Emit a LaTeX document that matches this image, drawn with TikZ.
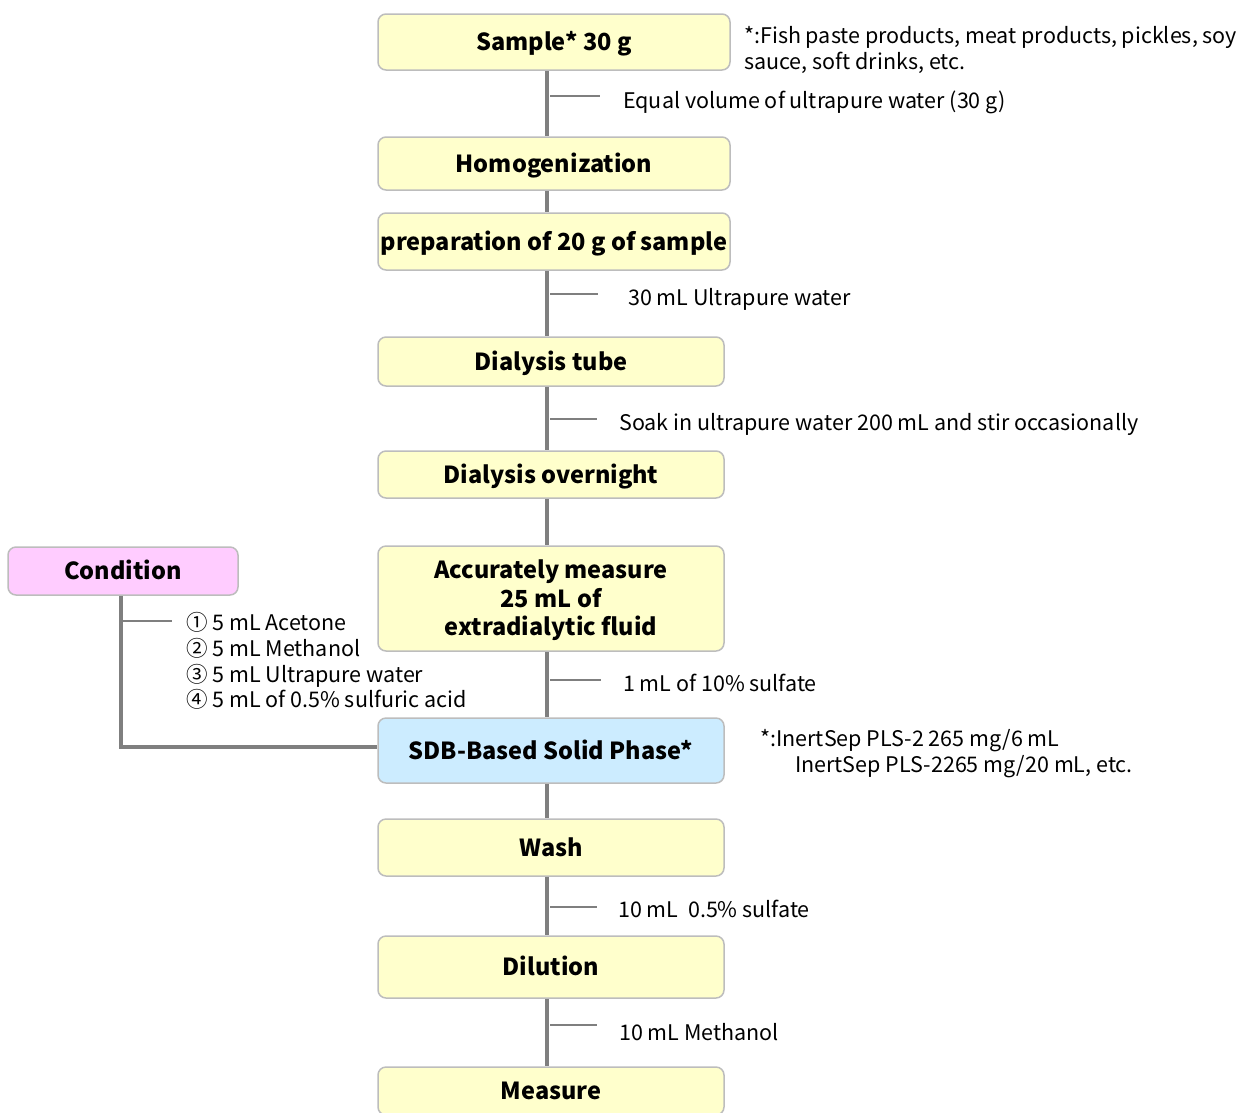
\documentclass[tikz,border=0pt]{standalone}
\usepackage{fontspec}
\setmainfont{Noto Sans CJK JP}
\usetikzlibrary{calc}
\definecolor{boxline}{HTML}{BDBDBD}
\definecolor{boxyellow}{HTML}{FFFFCC}
\definecolor{boxpink}{HTML}{FFCCFF}
\definecolor{boxblue}{HTML}{CCECFF}
\definecolor{wiregray}{HTML}{7F7F7F}
\tikzset{
	stepbox/.style={draw=boxline, line width=1.5pt, rounded corners=8pt, fill=boxyellow, align=center, inner sep=0pt, text height=22pt, text depth=5pt, font=\bfseries\fontsize{23.5}{28.5}\selectfont},
	notetext/.style={anchor=west, align=left, inner sep=0pt, font=\fontsize{21.5}{26}\selectfont},
	trunk/.style={draw=wiregray, line width=4pt},
	stub/.style={draw=wiregray, line width=1.8pt}
}
\begin{document}
\begin{tikzpicture}[x=1pt, y=-1pt]
		\useasboundingbox (0,0) rectangle (1241,1112);
		% Paths, nodes and wires:
		\coordinate (tx) at (547,0);
		\node[stepbox, minimum width=352pt, minimum height=56pt] (sample) at (554, 42){Sample* 30 g};
		\node[stepbox, minimum width=352pt, minimum height=53pt] (homog) at (554, 163.5){Homogenization};
		\node[stepbox, minimum width=352pt, minimum height=57pt] (prep) at (554, 241.5){preparation of 20 g of sample};
		\node[stepbox, minimum width=346pt, minimum height=49pt] (tube) at (551, 361.5){Dialysis tube};
		\node[stepbox, minimum width=346pt, minimum height=47pt] (overnight) at (551, 474.5){Dialysis overnight};
		\node[stepbox, text height=79pt, minimum width=346pt, minimum height=105pt] (take) at (551, 598.5){Accurately measure\\25 mL of\\extradialytic fluid};
		\node[stepbox, fill=boxblue, minimum width=346pt, minimum height=65pt] (sdb) at (551, 750.5){SDB-Based Solid Phase*};
		\node[stepbox, minimum width=346pt, minimum height=57pt] (wash) at (551, 847.5){Wash};
		\node[stepbox, minimum width=346pt, minimum height=62pt] (dilution) at (551, 967){Dilution};
		\node[stepbox, minimum width=346pt, minimum height=48pt] (measure) at (551, 1091){Measure};
		\node[stepbox, fill=boxpink, minimum width=230pt, minimum height=48pt] (cond) at (123, 571){Condition};
		\node[notetext] (samplenote) at (744, 50){*:Fish paste products, meat products, pickles, soy\\sauce, soft drinks, etc.};
		\node[notetext] (sdbnote) at (760, 754){*:InertSep PLS-2 265 mg/6 mL\\\hspace*{35pt}InertSep PLS-2265 mg/20 mL, etc.};
		\node[notetext] (water) at (623, 102){Equal volume of ultrapure water (30 g)};
		\node[notetext] (add30) at (628, 299){30 mL Ultrapure water};
		\node[notetext] (soak) at (619, 424){Soak in ultrapure water 200 mL and stir occasionally};
		\node[notetext, font=\fontsize{21.5}{25.7}\selectfont] (condlist) at (186, 661){① 5 mL Acetone\\② 5 mL Methanol\\③ 5 mL Ultrapure water\\④ 5 mL of 0.5\% sulfuric acid};
		\node[notetext] (acid) at (623, 683){1 mL of 10\% sulfate};
		\node[notetext] (rinse) at (618, 909){10 mL\ \ 0.5\% sulfate};
		\node[notetext] (elute) at (619, 1032){10 mL Methanol};
		\coordinate (s1) at (600, 96);
		\coordinate (s2) at (598, 294);
		\coordinate (s3) at (597, 419);
		\coordinate (s4) at (172, 621);
		\coordinate (s5) at (601, 680);
		\coordinate (s6) at (597, 907);
		\coordinate (s7) at (597, 1025);
		\draw[trunk] (sample.south -| tx) -- (homog.north -| tx);
		\draw[trunk] (homog.south -| tx) -- (prep.north -| tx);
		\draw[trunk] (prep.south -| tx) -- (tube.north -| tx);
		\draw[trunk] (tube.south -| tx) -- (overnight.north -| tx);
		\draw[trunk] (overnight.south -| tx) -- (take.north -| tx);
		\draw[trunk] (take.south -| tx) -- (sdb.north -| tx);
		\draw[trunk] (sdb.south -| tx) -- (wash.north -| tx);
		\draw[trunk] (wash.south -| tx) -- (dilution.north -| tx);
		\draw[trunk] (dilution.south -| tx) -- (measure.north -| tx);
		\draw[trunk] ([xshift=-2pt]cond.south) |- ([yshift=3.5pt]sdb.west);
		\draw[stub] ($(tx |- s1)+(3,0)$) -- (s1);
		\draw[stub] ($(tx |- s2)+(3,0)$) -- (s2);
		\draw[stub] ($(tx |- s3)+(3,0)$) -- (s3);
		\draw[stub] ($(cond.south |- s4)+(0,0)$) -- (s4);
		\draw[stub] ($(tx |- s5)+(3,0)$) -- (s5);
		\draw[stub] ($(tx |- s6)+(3,0)$) -- (s6);
		\draw[stub] ($(tx |- s7)+(3,0)$) -- (s7);
	\end{tikzpicture}
\end{document}
